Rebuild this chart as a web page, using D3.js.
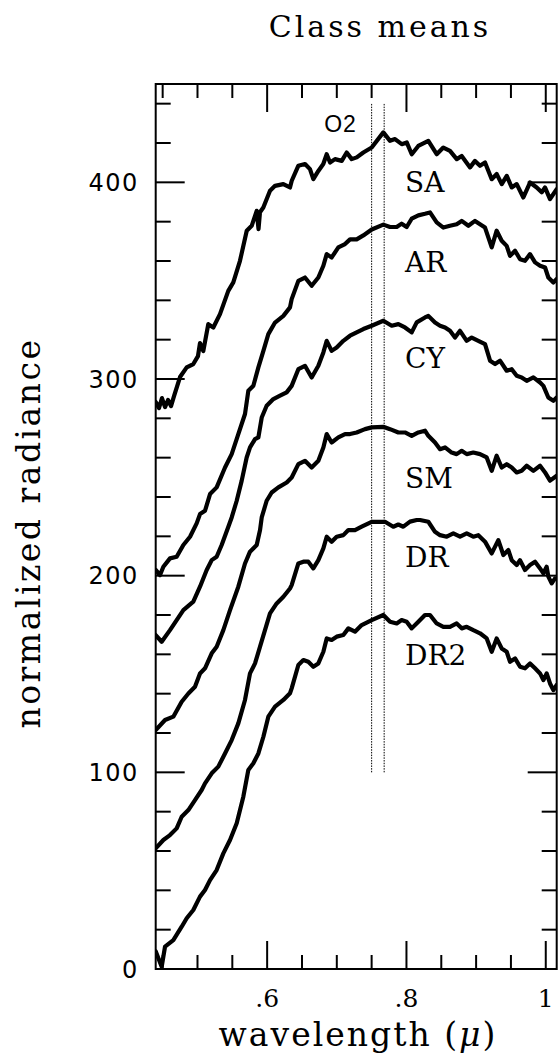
<!DOCTYPE html>
<html><head><meta charset="utf-8">
<script src="https://cdn.jsdelivr.net/npm/d3@7"></script>
<style>body{margin:0;background:#fff}</style>
</head><body>
<svg id="c" width="558" height="1056" xmlns="http://www.w3.org/2000/svg"></svg>
<script>
// ---- data (wavelength in microns, normalized radiance) ----
const SA = [[0.4400,288.3],[0.4447,285.2],[0.4490,290.3],[0.4534,285.7],[0.4577,289.3],[0.4620,286.2],[0.4663,291.3],[0.4749,301.0],[0.4845,305.9],[0.4940,307.6],[0.5007,311.6],[0.5036,318.3],[0.5083,314.2],[0.5155,327.9],[0.5227,326.2],[0.5323,333.0],[0.5442,344.8],[0.5514,349.1],[0.5610,360.1],[0.5707,375.4],[0.5778,377.9],[0.5850,385.5],[0.5876,376.2],[0.5897,384.8],[0.5945,387.2],[0.6041,395.7],[0.6113,398.2],[0.6232,399.1],[0.6328,397.4],[0.6353,400.8],[0.6447,408.4],[0.6544,409.3],[0.6615,406.7],[0.6663,401.6],[0.6735,405.8],[0.6806,409.3],[0.6855,414.3],[0.6903,410.1],[0.6974,411.8],[0.7071,410.9],[0.7142,415.2],[0.7214,411.8],[0.7286,412.7],[0.7381,415.2],[0.7501,417.7],[0.7668,425.4],[0.7764,421.1],[0.7836,422.0],[0.7932,419.4],[0.8004,420.3],[0.8076,414.3],[0.8170,418.5],[0.8314,421.1],[0.8434,414.3],[0.8529,417.7],[0.8625,416.0],[0.8722,411.8],[0.8793,413.4],[0.8913,407.6],[0.8984,410.9],[0.9056,408.4],[0.9128,410.1],[0.9224,401.6],[0.9296,404.2],[0.9368,399.1],[0.9440,403.3],[0.9511,397.4],[0.9583,399.1],[0.9678,392.3],[0.9774,399.9],[0.9870,397.4],[0.9942,394.9],[0.9989,397.4],[1.0061,391.5],[1.0157,396.5]];
const AR = [[0.4400,202.9],[0.4462,200.3],[0.4510,204.5],[0.4605,208.8],[0.4701,209.6],[0.4797,215.6],[0.4893,219.8],[0.4988,226.6],[0.5036,231.3],[0.5108,233.0],[0.5180,241.5],[0.5275,244.9],[0.5395,255.0],[0.5491,261.8],[0.5586,272.0],[0.5682,282.2],[0.5730,294.0],[0.5802,296.6],[0.5874,305.9],[0.5946,314.3],[0.6017,322.8],[0.6113,328.7],[0.6233,332.1],[0.6328,336.4],[0.6352,340.6],[0.6448,349.9],[0.6543,351.6],[0.6639,347.4],[0.6735,351.6],[0.6807,357.6],[0.6855,363.5],[0.6926,361.8],[0.7022,366.9],[0.7118,368.6],[0.7190,371.0],[0.7285,371.0],[0.7381,373.0],[0.7501,376.0],[0.7668,378.5],[0.7764,377.3],[0.7860,377.3],[0.7931,379.0],[0.8003,377.3],[0.8075,381.5],[0.8171,383.2],[0.8266,384.0],[0.8338,384.7],[0.8434,379.6],[0.8530,377.0],[0.8625,377.9],[0.8721,378.7],[0.8793,380.4],[0.8889,377.9],[0.8984,380.4],[0.9056,378.7],[0.9128,377.0],[0.9224,366.9],[0.9295,375.4],[0.9367,370.3],[0.9439,367.7],[0.9487,362.6],[0.9559,365.2],[0.9631,360.9],[0.9702,360.1],[0.9774,363.5],[0.9846,359.3],[0.9918,357.6],[0.9990,356.7],[1.0037,351.6],[1.0109,349.1],[1.0157,350.8]];
const CY = [[0.4400,169.8],[0.4486,166.4],[0.4605,172.3],[0.4797,182.5],[0.4940,186.8],[0.5036,194.4],[0.5132,202.9],[0.5204,207.9],[0.5275,209.6],[0.5347,215.6],[0.5443,224.9],[0.5491,229.6],[0.5563,238.1],[0.5634,248.2],[0.5706,260.1],[0.5754,265.2],[0.5826,269.4],[0.5874,270.3],[0.5922,280.4],[0.5993,286.4],[0.6089,289.8],[0.6185,291.5],[0.6280,293.2],[0.6352,296.5],[0.6448,305.0],[0.6543,306.7],[0.6639,300.8],[0.6735,306.7],[0.6807,313.5],[0.6855,319.4],[0.6926,314.3],[0.6998,316.0],[0.7094,319.4],[0.7190,322.0],[0.7285,323.7],[0.7381,325.4],[0.7501,327.1],[0.7668,329.6],[0.7788,327.1],[0.7884,327.9],[0.7979,326.2],[0.8075,323.7],[0.8147,328.8],[0.8266,331.3],[0.8314,332.1],[0.8410,328.7],[0.8482,327.1],[0.8554,326.2],[0.8625,324.5],[0.8697,321.1],[0.8769,324.5],[0.8865,319.4],[0.8937,321.1],[0.9032,319.4],[0.9128,317.7],[0.9200,309.3],[0.9272,307.6],[0.9343,309.3],[0.9439,304.2],[0.9511,305.0],[0.9583,301.6],[0.9654,300.8],[0.9726,299.1],[0.9822,300.8],[0.9918,298.2],[0.9966,296.5],[1.0037,290.6],[1.0109,288.9],[1.0157,290.6]];
const SM = [[0.4400,121.5],[0.4534,126.6],[0.4653,128.3],[0.4773,135.9],[0.4869,140.1],[0.4964,143.5],[0.5036,150.3],[0.5108,152.9],[0.5204,160.5],[0.5275,163.9],[0.5371,172.3],[0.5467,182.5],[0.5586,194.4],[0.5682,206.2],[0.5754,212.2],[0.5850,215.6],[0.5898,223.2],[0.5922,229.6],[0.5993,238.1],[0.6065,242.3],[0.6161,244.9],[0.6281,247.4],[0.6352,249.9],[0.6448,256.7],[0.6543,258.4],[0.6639,255.0],[0.6735,258.4],[0.6807,265.2],[0.6855,272.0],[0.6926,267.7],[0.7022,270.3],[0.7118,272.0],[0.7190,272.0],[0.7285,272.8],[0.7405,274.5],[0.7501,275.4],[0.7668,275.7],[0.7764,274.5],[0.7884,272.8],[0.7979,272.8],[0.8075,271.1],[0.8171,272.8],[0.8266,273.7],[0.8314,271.1],[0.8410,267.7],[0.8482,264.3],[0.8554,265.2],[0.8649,262.6],[0.8721,261.8],[0.8793,263.5],[0.8865,261.8],[0.8960,262.6],[0.9056,261.8],[0.9152,260.1],[0.9224,253.3],[0.9295,261.0],[0.9367,255.0],[0.9439,256.7],[0.9511,255.0],[0.9583,252.5],[0.9654,253.3],[0.9726,255.9],[0.9822,253.3],[0.9918,255.9],[0.9990,252.5],[1.0061,248.3],[1.0157,250.8]];
const DR = [[0.4400,61.3],[0.4510,65.6],[0.4605,68.1],[0.4701,71.5],[0.4773,77.4],[0.4869,80.8],[0.4964,85.9],[0.5060,91.0],[0.5108,94.4],[0.5204,99.5],[0.5299,102.9],[0.5395,109.6],[0.5491,116.4],[0.5586,124.9],[0.5682,136.8],[0.5754,150.3],[0.5826,155.4],[0.5898,163.9],[0.5969,172.3],[0.6041,180.8],[0.6137,185.9],[0.6233,189.3],[0.6328,193.5],[0.6352,195.2],[0.6448,206.2],[0.6520,207.1],[0.6591,207.1],[0.6663,203.7],[0.6735,207.9],[0.6807,213.9],[0.6855,219.8],[0.6926,217.2],[0.6998,219.8],[0.7094,220.6],[0.7166,223.2],[0.7261,223.2],[0.7357,224.9],[0.7501,227.4],[0.7692,227.4],[0.7811,224.9],[0.7883,226.0],[0.7955,224.9],[0.8051,227.5],[0.8147,228.3],[0.8195,228.3],[0.8314,227.4],[0.8410,222.3],[0.8482,220.6],[0.8578,219.8],[0.8673,221.5],[0.8769,219.8],[0.8865,221.5],[0.8960,219.8],[0.9032,220.6],[0.9128,217.3],[0.9224,211.3],[0.9319,218.1],[0.9391,210.5],[0.9463,213.0],[0.9511,207.9],[0.9583,205.4],[0.9630,207.9],[0.9702,202.9],[0.9774,205.4],[0.9846,207.1],[0.9918,203.7],[0.9966,201.2],[1.0013,204.5],[1.0037,199.5],[1.0085,196.1],[1.0133,198.6]];
const DR2 = [[0.4400,9.0],[0.4486,1.2],[0.4534,11.4],[0.4653,14.7],[0.4773,21.5],[0.4845,25.8],[0.4940,30.0],[0.5036,36.8],[0.5108,40.2],[0.5180,45.2],[0.5275,50.3],[0.5371,58.8],[0.5467,65.6],[0.5563,74.1],[0.5658,87.6],[0.5730,101.2],[0.5802,104.6],[0.5874,109.6],[0.5946,118.1],[0.6017,128.3],[0.6113,133.4],[0.6233,136.8],[0.6328,140.2],[0.6352,142.7],[0.6448,154.6],[0.6520,157.1],[0.6591,156.2],[0.6663,153.7],[0.6735,155.4],[0.6807,161.3],[0.6855,168.1],[0.6926,167.3],[0.6998,169.0],[0.7094,169.8],[0.7166,173.2],[0.7261,171.5],[0.7357,174.9],[0.7501,177.4],[0.7668,180.0],[0.7764,176.6],[0.7860,175.7],[0.7931,177.4],[0.8003,176.6],[0.8075,173.2],[0.8171,176.6],[0.8266,180.0],[0.8338,180.0],[0.8434,175.7],[0.8530,174.0],[0.8625,174.0],[0.8721,175.7],[0.8793,173.2],[0.8865,174.0],[0.8960,172.3],[0.9056,170.7],[0.9152,168.1],[0.9224,161.3],[0.9295,168.1],[0.9367,163.0],[0.9439,161.3],[0.9487,156.2],[0.9559,157.9],[0.9631,153.7],[0.9702,152.9],[0.9774,155.4],[0.9846,152.9],[0.9918,150.3],[0.9966,146.9],[1.0013,150.3],[1.0061,145.2],[1.0109,141.8],[1.0157,144.4]];

const seriesNames = ["SA","AR","CY","SM","DR","DR2"];
const seriesData = [SA, AR, CY, SM, DR, DR2];
const labelValues = [395.2, 354.5, 305.4, 244.4, 204.5, 154.5];
const labelWave = 0.798;

const xMajorTicks = [0.6, 0.8, 1.0];
const xMinorTicks = [0.45, 0.5, 0.55, 0.65, 0.7, 0.75, 0.85, 0.9, 0.95];
const yMajorTicks = [0, 100, 200, 300, 400];
const yMinorTicks = [20,40,60,80,120,140,160,180,220,240,260,280,320,340,360,380,420,440];
const o2Waves = [0.750, 0.768];
const o2Span = [100, 440];

// ---- layout ----
const svg = d3.select("#c");
svg.append("rect").attr("width",558).attr("height",1056).attr("fill","#fff");
const L = 155.7, R = 556.7, T = 84, B = 969;
const x = d3.scaleLinear().domain([0.44, 1.0157]).range([L, R]);
const y = d3.scaleLinear().domain([0, 450]).range([B, T]);

const serif = "'DejaVu Serif', serif";
const sans = "'DejaVu Sans', sans-serif";
const xFmt = d => d === 1 ? "1" : d3.format(".1f")(d).replace(/^0/, "");

// inward tick marks on all four sides, positioned with the scales
const xT = xMinorTicks.map(v=>({v,len:14})).concat(xMajorTicks.map(v=>({v,len:28})));
const yT = yMinorTicks.map(v=>({v,len:15})).concat(yMajorTicks.filter(v=>v>0).map(v=>({v,len:29})));
const tickStyle = s => s.attr("stroke","#000").attr("stroke-width",2).attr("fill","none");
svg.selectAll(".tb").data(xT).join("line").attr("class","tb")
  .attr("x1",d=>x(d.v)).attr("x2",d=>x(d.v)).attr("y1",y(0)).attr("y2",d=>y(0)-d.len).call(tickStyle);
svg.selectAll(".tt").data(xT).join("line").attr("class","tt")
  .attr("x1",d=>x(d.v)).attr("x2",d=>x(d.v)).attr("y1",y(450)).attr("y2",d=>y(450)+d.len).call(tickStyle);
svg.selectAll(".tl").data(yT).join("line").attr("class","tl")
  .attr("x1",x(0.44)).attr("x2",d=>x(0.44)+d.len).attr("y1",d=>y(d.v)).attr("y2",d=>y(d.v)).call(tickStyle);
svg.selectAll(".tr").data(yT).join("line").attr("class","tr")
  .attr("x1",x(1.0157)).attr("x2",d=>x(1.0157)-d.len).attr("y1",d=>y(d.v)).attr("y2",d=>y(d.v)).call(tickStyle);

// tick labels
svg.selectAll(".xl").data(xMajorTicks).join("text").attr("class","xl")
  .attr("x",d=>x(d)).attr("y",1007).attr("text-anchor","middle")
  .attr("font-family",serif).attr("font-size",25).text(xFmt);
svg.selectAll(".yl").data(yMajorTicks).join("text").attr("class","yl")
  .attr("x",L-17).attr("y",d=>y(d)).attr("dy","0.36em").attr("text-anchor","end")
  .attr("font-family",sans).attr("font-size",24).attr("letter-spacing",1.5).text(d3.format("d"));

// O2 lines
svg.selectAll(".o2").data(o2Waves).join("line").attr("class","o2")
  .attr("x1",d=>x(d)).attr("x2",d=>x(d)).attr("y1",y(o2Span[0])).attr("y2",y(o2Span[1]))
  .attr("stroke","#000").attr("stroke-width",1).attr("stroke-dasharray","1.5,1.2");
svg.append("text").attr("x",x(0.7288)).attr("y",y(425.5)).attr("text-anchor","end")
  .attr("font-family","'Liberation Sans', sans-serif").attr("font-size",23).attr("letter-spacing",1)
  .text("O2");

// curves
svg.append("clipPath").attr("id","clip").append("rect").attr("x",L).attr("y",T).attr("width",R-L).attr("height",B-T);
const lineGen = d3.line().x(d=>x(d[0])).y(d=>y(d[1]));
svg.append("g").attr("clip-path","url(#clip)").selectAll("path").data(seriesData).join("path")
  .attr("d",lineGen).attr("fill","none").attr("stroke","#000").attr("stroke-width",4.2)
  .attr("stroke-linejoin","round").attr("stroke-linecap","round");

// labels
svg.selectAll(".lab").data(seriesNames).join("text").attr("class","lab")
  .attr("x",x(labelWave)).attr("y",(d,i)=>y(labelValues[i]))
  .attr("font-family",serif).attr("font-size",28).text(d=>d);

// titles
svg.append("text").attr("x",380).attr("y",37).attr("text-anchor","middle")
  .attr("font-family",serif).attr("font-size",30).attr("letter-spacing",3).text("Class means");
const xl = svg.append("text").attr("x",358).attr("y",1046).attr("text-anchor","middle")
  .attr("font-family",serif).attr("font-size",33).attr("letter-spacing",2);
xl.append("tspan").text("wavelength (");
xl.append("tspan").attr("font-style","italic").text("μ");
xl.append("tspan").text(")");
svg.append("text").attr("transform","translate(40,533) rotate(-90)").attr("text-anchor","middle")
  .attr("font-family",serif).attr("font-size",33).attr("letter-spacing",2.5).text("normalized radiance");

// frame
svg.append("rect").attr("x",L).attr("y",T).attr("width",R-L).attr("height",B-T)
  .attr("fill","none").attr("stroke","#000").attr("stroke-width",2);
</script>
</body></html>
